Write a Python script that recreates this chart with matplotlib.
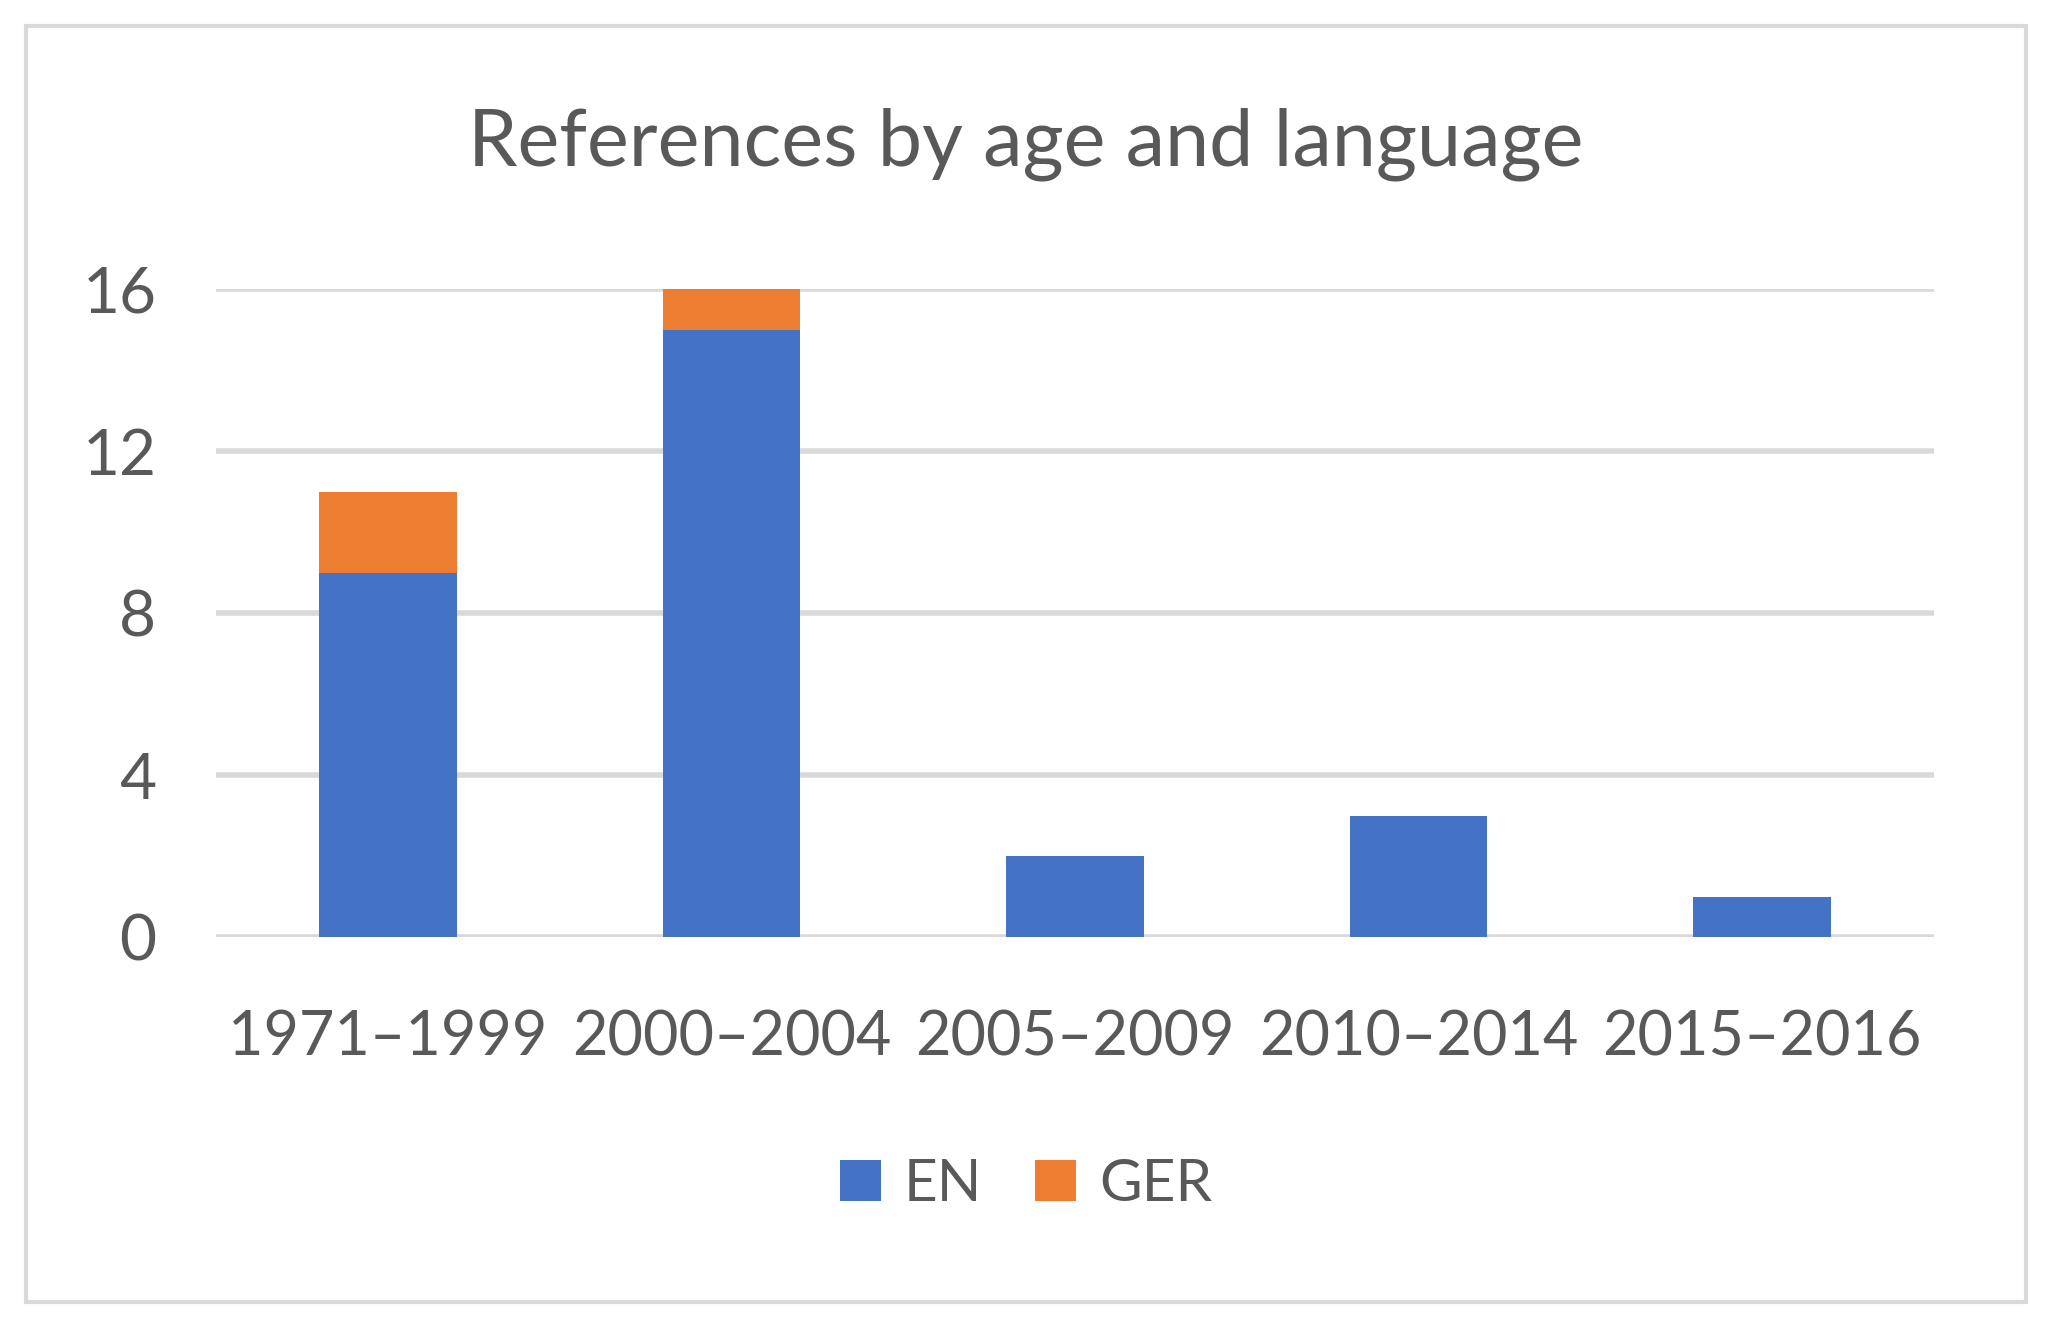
import matplotlib.pyplot as plt
from matplotlib.patches import Rectangle
import numpy as np

categories = ['1971–1999', '2000–2004', '2005–2009', '2010–2014', '2015–2016']
en_counts = [9, 15, 2, 3, 1]
ger_counts = [2, 1, 0, 0, 0]
y_ticks = [0, 4, 8, 12, 16]

plt.rcParams['font.family'] = ['Lato', 'DejaVu Sans']
text_color = '#595959'
grid_color = '#d9d9d9'

fig = plt.figure(figsize=(20.52, 13.35), dpi=100)
ax = fig.add_axes([0.1053, 0.2981, 0.8372, 0.4854])

x = np.arange(len(categories))
ax.bar(x, en_counts, width=0.4, color='#4472c4', label='EN', zorder=3)
ax.bar(x, ger_counts, width=0.4, bottom=en_counts, color='#ed7d31', label='GER', zorder=3)

ax.set_xlim(-0.5, len(categories) - 0.5)
ax.set_ylim(0, 16)
ax.set_yticks(y_ticks)
ax.set_xticks(x)
ax.set_xticklabels(categories)
ax.tick_params(axis='both', length=0, colors=text_color)
ax.tick_params(axis='x', labelsize=44, pad=52)
ax.tick_params(axis='y', labelsize=46, pad=43)
ax.grid(axis='y', color=grid_color, linewidth=4, zorder=0)
for s in ax.spines.values():
    s.set_visible(False)

fig.text(0.5, 0.892, 'References by age and language', ha='center', va='center',
         fontsize=57, color=text_color)

fig.legend(loc='center', bbox_to_anchor=(0.5, 0.113), ncol=2, frameon=False,
           fontsize=42, labelcolor=text_color, handlelength=0.7, handleheight=0.7,
           columnspacing=0.9, handletextpad=0.4)

# outer chart border
fig.patches.append(Rectangle((26 / 2052, 1 - 1302 / 1335), 2000 / 2052, 1276 / 1335,
                             transform=fig.transFigure, fill=False,
                             edgecolor=grid_color, linewidth=3))

fig.savefig('out.png', dpi=100)
